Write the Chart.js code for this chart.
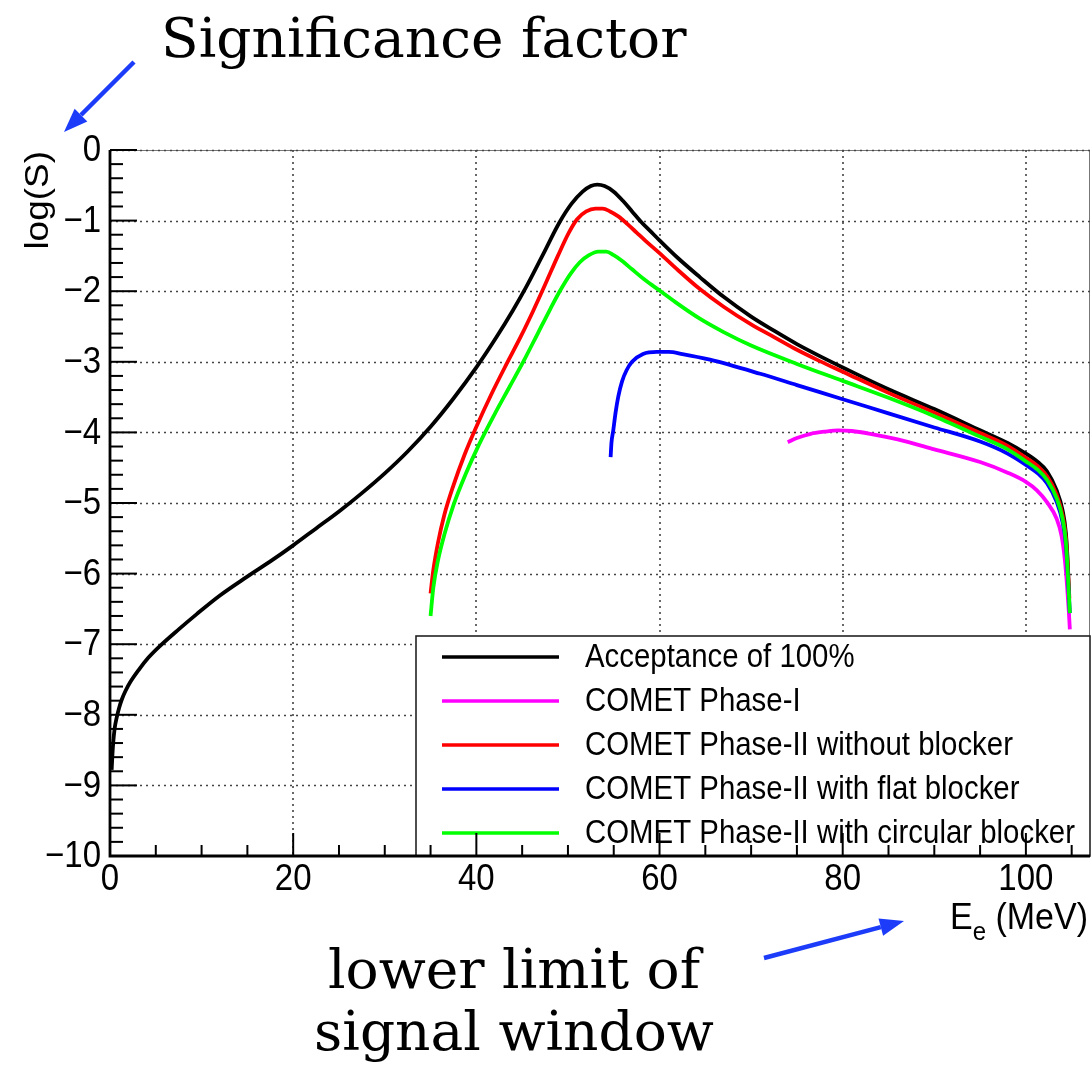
<!DOCTYPE html>
<html>
<head>
<meta charset="utf-8">
<script src="https://cdn.jsdelivr.net/npm/chart.js@4.4.1/dist/chart.umd.min.js"></script>
<style>
  html, body { margin: 0; padding: 0; background: #ffffff; }
  canvas { display: block; }
</style>
</head>
<body>
<canvas id="chart" width="1091" height="1070"></canvas>
<script>
// ---- Axis ranges and tick labels ----
const xRange = [0, 107];
const yRange = [-10, 0];
const xTickValues = [0, 20, 40, 60, 80, 100];
const xTickLabels = ['0', '20', '40', '60', '80', '100'];
const yTickValues = [0, -1, -2, -3, -4, -5, -6, -7, -8, -9, -10];
const yTickLabels = ['0', '\u22121', '\u22122', '\u22123', '\u22124', '\u22125', '\u22126', '\u22127', '\u22128', '\u22129', '\u221210'];

// ---- Series: lower limit of signal window E_e (MeV) vs log(S) ----
const seriesNames = [
  'Acceptance of 100%',
  'COMET Phase-I',
  'COMET Phase-II without blocker',
  'COMET Phase-II with flat blocker',
  'COMET Phase-II with circular blocker'
];
const seriesColors = ['#000000', '#ff00ff', '#ff0000', '#0000ff', '#00ff00'];

const acceptanceE = [0.18, 0.27, 0.36, 0.5, 0.73, 1.0, 1.3, 1.7, 2.2, 3.1, 4.2, 5.5, 7.5, 9.5, 12, 14.9, 17.7, 20, 22.5, 25, 27.5, 30, 32.5, 35, 37.5, 40, 42.2, 44, 45.4, 47.2, 49.1, 50.4, 51.6, 52.5, 53.2, 54, 55, 56, 57, 58, 59, 60, 62, 64.4, 67, 70, 72.5, 75, 77.5, 80, 85, 90, 95, 98, 100, 101.3, 102.3, 103.35, 104, 104.37, 104.59, 104.73];
const acceptanceLogS = [-8.78, -8.55, -8.38, -8.2, -8.04, -7.9, -7.78, -7.66, -7.54, -7.37, -7.19, -7.02, -6.79, -6.57, -6.31, -6.05, -5.81, -5.6, -5.36, -5.12, -4.86, -4.58, -4.27, -3.92, -3.52, -3.08, -2.65, -2.27, -1.95, -1.5, -1.02, -0.76, -0.59, -0.51, -0.49, -0.51, -0.59, -0.72, -0.87, -1.02, -1.15, -1.28, -1.53, -1.8, -2.08, -2.36, -2.56, -2.75, -2.92, -3.08, -3.39, -3.67, -3.97, -4.15, -4.3, -4.42, -4.55, -4.82, -5.1, -5.43, -5.9, -6.37];

const phase1E = [74, 75, 76.5, 78, 79.5, 81, 83, 86, 90, 95, 98, 100, 101.2, 102.26, 103.35, 103.9, 104.26, 104.5, 104.7, 104.8];
const phase1LogS = [-4.14, -4.08, -4.02, -3.99, -3.97, -3.98, -4.02, -4.1, -4.24, -4.42, -4.57, -4.7, -4.82, -4.98, -5.22, -5.47, -5.81, -6.18, -6.56, -6.79];

const noBlockerE = [35, 35.3, 35.8, 36.5, 37.5, 38.7, 40, 41.6, 43.3, 44.9, 46.2, 47.5, 48.9, 50.1, 51, 52, 53, 53.8, 54.6, 55.5, 56.5, 57.5, 58.5, 60, 62, 64.4, 67, 70, 72.5, 75, 77.5, 80, 85, 90, 95, 98, 100, 101.3, 102.3, 103.35, 104, 104.37, 104.59, 104.75];
const noBlockerLogS = [-6.28, -5.95, -5.57, -5.17, -4.75, -4.32, -3.92, -3.47, -3.03, -2.63, -2.28, -1.91, -1.5, -1.17, -0.98, -0.87, -0.83, -0.83, -0.87, -0.94, -1.05, -1.17, -1.29, -1.46, -1.7, -1.97, -2.22, -2.47, -2.65, -2.83, -2.99, -3.14, -3.44, -3.72, -4.01, -4.19, -4.36, -4.48, -4.62, -4.88, -5.17, -5.5, -5.95, -6.35];

const flatBlockerE = [54.66, 54.75, 54.95, 55.2, 55.5, 55.9, 56.4, 57, 58.2, 59.7, 61, 62.5, 65.5, 71, 75, 80, 85, 90, 95, 98, 100, 101.3, 102.3, 103.35, 104, 104.37, 104.6, 104.8];
const flatBlockerLogS = [-4.35, -4.15, -3.97, -3.72, -3.49, -3.28, -3.12, -3.0, -2.89, -2.86, -2.86, -2.89, -2.97, -3.17, -3.33, -3.53, -3.73, -3.93, -4.13, -4.3, -4.46, -4.58, -4.72, -4.98, -5.27, -5.6, -6.08, -6.56];

const circBlockerE = [35, 35.3, 35.8, 36.5, 37.5, 38.8, 40.3, 42, 43.6, 45.2, 46.7, 48, 49.2, 50.3, 51.3, 52.3, 53.3, 54.2, 55, 56, 57, 58.5, 60, 62, 64.4, 67, 70, 75, 80, 85, 90, 95, 98, 100, 101.3, 102.3, 103.35, 104, 104.37, 104.6, 104.8];
const circBlockerLogS = [-6.6, -6.2, -5.82, -5.45, -5.03, -4.6, -4.17, -3.74, -3.36, -2.98, -2.6, -2.27, -1.98, -1.75, -1.59, -1.49, -1.44, -1.44, -1.49, -1.58, -1.69, -1.85, -1.99, -2.18, -2.39, -2.58, -2.77, -3.03, -3.27, -3.51, -3.77, -4.06, -4.24, -4.41, -4.53, -4.67, -4.93, -5.22, -5.56, -6.05, -6.56];

const seriesE = [acceptanceE, phase1E, noBlockerE, flatBlockerE, circBlockerE];
const seriesLogS = [acceptanceLogS, phase1LogS, noBlockerLogS, flatBlockerLogS, circBlockerLogS];

function toPoints(xs, ys) {
  return xs.map((x, i) => ({ x: x, y: ys[i] }));
}

const SANS = '"Liberation Sans", Arial, Helvetica, sans-serif';
const SERIF = '"DejaVu Serif", "Liberation Serif", serif';
const ARROW_BLUE = 'rgb(28, 60, 250)';

// text drawn slightly taller than wide, as in the exported figure
function tallText(ctx, text, x, y, sy) {
  ctx.save();
  ctx.translate(x, y);
  ctx.scale(1, sy);
  ctx.fillText(text, 0, 0);
  ctx.restore();
}

function drawArrow(ctx, x1, y1, x2, y2) {
  const ang = Math.atan2(y2 - y1, x2 - x1);
  const headLen = 24, headHalf = 9;
  const bx = x2 - headLen * Math.cos(ang), by = y2 - headLen * Math.sin(ang);
  ctx.save();
  ctx.strokeStyle = ARROW_BLUE;
  ctx.fillStyle = ARROW_BLUE;
  ctx.lineWidth = 4.5;
  ctx.beginPath();
  ctx.moveTo(x1, y1);
  ctx.lineTo(bx, by);
  ctx.stroke();
  ctx.beginPath();
  ctx.moveTo(x2, y2);
  ctx.lineTo(bx + headHalf * Math.sin(ang), by - headHalf * Math.cos(ang));
  ctx.lineTo(bx - headHalf * Math.sin(ang), by + headHalf * Math.cos(ang));
  ctx.closePath();
  ctx.fill();
  ctx.restore();
}

// Frame, grid, inward ticks, labels, legend box and annotations
const rootStyleFrame = {
  id: 'rootStyleFrame',
  beforeDraw(chart) {
    const ctx = chart.ctx;
    ctx.save();
    ctx.fillStyle = '#ffffff';
    ctx.fillRect(0, 0, chart.width, chart.height);
    ctx.restore();
  },
  beforeDatasetsDraw(chart) {
    const ctx = chart.ctx, a = chart.chartArea;
    const xs = chart.scales.x, ys = chart.scales.y;
    ctx.save();
    // thin frame on top and right
    ctx.strokeStyle = '#777';
    ctx.lineWidth = 1;
    ctx.beginPath();
    ctx.moveTo(a.left, a.top + 0.5);
    ctx.lineTo(a.right - 0.5, a.top + 0.5);
    ctx.lineTo(a.right - 0.5, a.bottom);
    ctx.stroke();
    // dotted grid at major ticks
    ctx.strokeStyle = '#444';
    ctx.lineWidth = 1.6;
    ctx.setLineDash([2, 4]);
    xTickValues.forEach(v => {
      if (v === xRange[0]) return;
      const px = Math.round(xs.getPixelForValue(v));
      ctx.beginPath();
      ctx.moveTo(px, a.top);
      ctx.lineTo(px, a.bottom);
      ctx.stroke();
    });
    yTickValues.forEach(v => {
      if (v === yRange[0]) return;
      const py = Math.round(ys.getPixelForValue(v));
      ctx.beginPath();
      ctx.moveTo(a.left, py + 0.5);
      ctx.lineTo(a.right, py + 0.5);
      ctx.stroke();
    });
    ctx.restore();
  },
  afterDatasetsDraw(chart) {
    const ctx = chart.ctx, a = chart.chartArea;
    const xs = chart.scales.x, ys = chart.scales.y;

    // legend box
    const lg = { left: 416, top: 636, right: a.right, bottom: a.bottom };
    ctx.save();
    ctx.fillStyle = '#ffffff';
    ctx.fillRect(lg.left, lg.top, lg.right - lg.left, lg.bottom - lg.top);
    ctx.strokeStyle = '#222';
    ctx.lineWidth = 1.6;
    ctx.strokeRect(lg.left, lg.top, lg.right - lg.left, lg.bottom - lg.top);
    ctx.font = '29.4px ' + SANS;
    ctx.textBaseline = 'middle';
    ctx.textAlign = 'left';
    chart.data.datasets.forEach((ds, i) => {
      const yRow = 657 + i * 44;
      ctx.strokeStyle = ds.borderColor;
      ctx.lineWidth = 3.4;
      ctx.beginPath();
      ctx.moveTo(442, yRow);
      ctx.lineTo(559, yRow);
      ctx.stroke();
      ctx.fillStyle = '#000';
      tallText(ctx, ds.label, 585, yRow + 1, 1.12);
    });
    ctx.restore();

    // axes
    ctx.save();
    ctx.strokeStyle = '#000';
    ctx.lineWidth = 2.8;
    ctx.beginPath();
    ctx.moveTo(a.left, a.top);
    ctx.lineTo(a.left, a.bottom);
    ctx.lineTo(a.right, a.bottom);
    ctx.stroke();

    // inward ticks
    ctx.lineWidth = 2;
    for (let k = 0; k <= 50; k++) {
      const v = yRange[0] + k * 0.2;
      const py = ys.getPixelForValue(v);
      const major = k % 5 === 0;
      ctx.beginPath();
      ctx.moveTo(a.left, py);
      ctx.lineTo(a.left + (major ? 27 : 13), py);
      ctx.stroke();
    }
    for (let v = 0; v <= xRange[1]; v += 5) {
      const px = xs.getPixelForValue(v);
      const major = v % 20 === 0;
      ctx.beginPath();
      ctx.moveTo(px, a.bottom);
      ctx.lineTo(px, a.bottom - (major ? 23 : 11));
      ctx.stroke();
    }

    // tick labels
    ctx.fillStyle = '#000';
    ctx.font = '33px ' + SANS;
    ctx.textAlign = 'right';
    ctx.textBaseline = 'middle';
    yTickValues.forEach((v, i) => {
      tallText(ctx, yTickLabels[i], a.left - 9, ys.getPixelForValue(v) + 1, 1.12);
    });
    ctx.textAlign = 'center';
    ctx.textBaseline = 'alphabetic';
    xTickValues.forEach((v, i) => {
      tallText(ctx, xTickLabels[i], xs.getPixelForValue(v), a.bottom + 34, 1.12);
    });

    // y axis title
    ctx.save();
    ctx.translate(48, a.top + 1);
    ctx.scale(1, 1.12);
    ctx.rotate(-Math.PI / 2);
    ctx.textAlign = 'right';
    ctx.textBaseline = 'alphabetic';
    ctx.fillText('log(S)', 0, 0);
    ctx.restore();

    // x axis title with subscript
    const big = '34px ' + SANS, small = '24px ' + SANS;
    ctx.textAlign = 'left';
    ctx.font = big; const wE = ctx.measureText('E').width;
    ctx.font = small; const wSub = ctx.measureText('e').width;
    ctx.font = big; const wRest = ctx.measureText(' (MeV)').width;
    const tx = 1088 - (wE + wSub + wRest);
    ctx.font = big; tallText(ctx, 'E', tx, 929, 1.1);
    ctx.font = small; tallText(ctx, 'e', tx + wE, 940, 1.1);
    ctx.font = big; tallText(ctx, ' (MeV)', tx + wE + wSub, 929, 1.1);
    ctx.restore();

    // annotations
    ctx.save();
    ctx.fillStyle = '#000';
    ctx.font = '55px ' + SERIF;
    ctx.textAlign = 'left';
    ctx.textBaseline = 'alphabetic';
    ctx.fillText('Significance factor', 161, 57);
    ctx.textAlign = 'center';
    ctx.fillText('lower limit of', 514, 988);
    ctx.fillText('signal window', 514, 1050);
    ctx.restore();
    drawArrow(ctx, 134, 62, 64, 132);
    drawArrow(ctx, 764, 958, 904, 921);
  }
};

const datasets = seriesNames.map((name, i) => ({
  label: name,
  data: toPoints(seriesE[i], seriesLogS[i]),
  borderColor: seriesColors[i],
  backgroundColor: seriesColors[i],
  borderWidth: 3.8,
  pointRadius: 0,
  fill: false,
  cubicInterpolationMode: 'monotone',
  order: seriesNames.length - i
}));

new Chart(document.getElementById('chart'), {
  type: 'line',
  data: { datasets: datasets },
  options: {
    responsive: false,
    animation: false,
    devicePixelRatio: 1,
    layout: { padding: { left: 110, top: 150, right: 1, bottom: 214 } },
    plugins: { legend: { display: false }, tooltip: { enabled: false } },
    scales: {
      x: { type: 'linear', min: xRange[0], max: xRange[1], display: false },
      y: { type: 'linear', min: yRange[0], max: yRange[1], display: false }
    }
  },
  plugins: [rootStyleFrame]
});
</script>
</body>
</html>
